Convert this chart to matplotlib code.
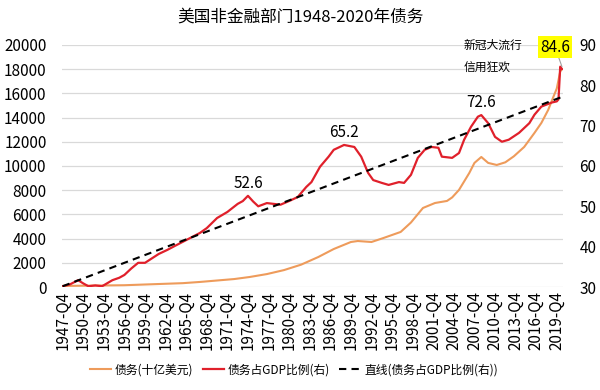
import numpy as np
import matplotlib.pyplot as plt

plt.rcParams['font.family'] = ['Noto Sans CJK SC', 'DejaVu Sans']

# quarter index: 0 = 1947-Q4, 288 = 2019-Q4
n_quarters = 292
tick_labels = ['%d-Q4' % y for y in range(1947, 2020, 3)]

# 债务(十亿美元)
debt_q = [0, 36, 70, 80, 100, 109, 119, 129, 139, 149, 158, 168, 172, 180, 187,
          197, 203, 210, 217, 224, 227, 231, 237, 240, 244, 248, 253, 258, 263,
          269, 275, 279, 283, 286, 288, 290, 291]
debt = [90, 150, 320, 420, 660, 830, 1070, 1400, 1850, 2480, 3140, 3720, 3800,
        3720, 4050, 4550, 5330, 6530, 6940, 7110, 7400, 8020, 9420, 10250, 10740,
        10250, 10080, 10300, 10800, 11570, 12730, 13550, 14630, 15700, 16400,
        17800, 18000]

# 债务占GDP比例(右), %
ratio_q = [0, 4, 9, 12, 15, 19, 23, 29, 33, 36, 40, 44, 48, 52, 56, 61, 65, 70,
           75, 80, 84, 90, 96, 102, 105, 108, 111, 114, 119, 123, 127, 133, 137,
           142, 145, 150, 155, 158, 164, 170, 174, 178, 181, 186, 190, 196, 199,
           203, 207, 211, 215, 219, 221, 227, 231, 234, 238, 242, 244, 248, 252,
           256, 260, 266, 272, 275, 279, 285, 288, 289, 290, 291]
ratio = [30.2, 30.6, 31.7, 30.9, 30.2, 30.4, 30.2, 31.7, 32.3, 33.0, 34.6, 36.0,
         36.0, 37.1, 38.2, 39.2, 40.1, 41.2, 42.3, 43.4, 44.6, 47.1, 48.6, 50.6,
         51.3, 52.6, 51.2, 50.0, 50.8, 50.6, 50.4, 51.5, 52.3, 54.8, 56.0, 59.8,
         62.3, 64.0, 65.2, 64.7, 62.3, 58.3, 56.5, 55.8, 55.3, 56.0, 55.8, 57.8,
         62.0, 64.0, 64.7, 64.5, 62.3, 62.0, 63.2, 66.5, 69.7, 72.2, 72.6, 70.6,
         67.2, 66.0, 66.5, 68.2, 70.6, 72.7, 74.7, 75.7, 76.0, 76.5, 84.6, 84.0]

# 直线 (linear trend of the ratio), end values
trend_q = [0, 291]
trend = [30.2, 77.1]

peaks = [(108, 52.6), (164, 65.2), (244, 72.6)]

fig = plt.figure(figsize=(6, 3.9), dpi=100)
ax = fig.add_axes([0.103, 0.264, 0.835, 0.621])
ax2 = ax.twinx()

l1, = ax.plot(debt_q, debt, color='#EE9B5B', linewidth=1.5, label='债务(十亿美元)')
l2, = ax2.plot(ratio_q, ratio, color='#E0202B', linewidth=1.6, label='债务占GDP比例(右)')
l3, = ax2.plot(trend_q, trend, color='black', linestyle=(0, (3.5, 2.5)),
               linewidth=1.5, label='直线(债务占GDP比例(右))')

ax.set_xlim(-0.5, n_quarters - 0.5)
ax.set_ylim(0, 20000)
ax.set_yticks(np.arange(0, 20001, 2000))
ax2.set_ylim(30, 90)
ax2.set_yticks(np.arange(30, 91, 10))
ax.set_xticks(np.arange(0, 289, 12))
ax.set_xticklabels(tick_labels, rotation=90)
ax.grid(axis='y', color='#D9D9D9', linewidth=0.9)
ax.set_axisbelow(True)

for a in (ax, ax2):
    for s in a.spines.values():
        s.set_visible(False)
    a.tick_params(length=0, labelsize=11)
ax.tick_params(axis='x', labelsize=11, pad=3)
ax.tick_params(axis='y', pad=11)
ax2.tick_params(axis='y', pad=12)

for q, v in peaks:
    ax2.annotate('%.1f' % v, (q, v), xytext=(0, 3), textcoords='offset points',
                 ha='center', va='bottom', fontsize=11)

ax2.annotate('84.6', (291, 84.6), xytext=(555, 390 - 47), textcoords='figure pixels',
             ha='center', va='center', fontsize=11,
             bbox=dict(boxstyle='square,pad=0.15', fc='#FFFF00', ec='none'),
             arrowprops=dict(arrowstyle='-', color='#A0A0A0', lw=0.8,
                             shrinkA=0, shrinkB=0))
fig.text(464 / 600, 1 - 45 / 390, '新冠大流行', fontsize=8.5, va='center', ha='left')
fig.text(464 / 600, 1 - 68 / 390, '信用狂欢', fontsize=8.5, va='center', ha='left')

fig.text(0.5, 1 - 17 / 390, '美国非金融部门1948-2020年债务', ha='center', va='center',
         fontsize=12)

fig.legend(handles=[l1, l2, l3], loc='center', bbox_to_anchor=(0.49, 1 - 370 / 390),
           ncol=3, frameon=False, fontsize=8.5, handlelength=1.8,
           handletextpad=0.3, columnspacing=0.8)

fig.savefig('out.png', dpi=100)
